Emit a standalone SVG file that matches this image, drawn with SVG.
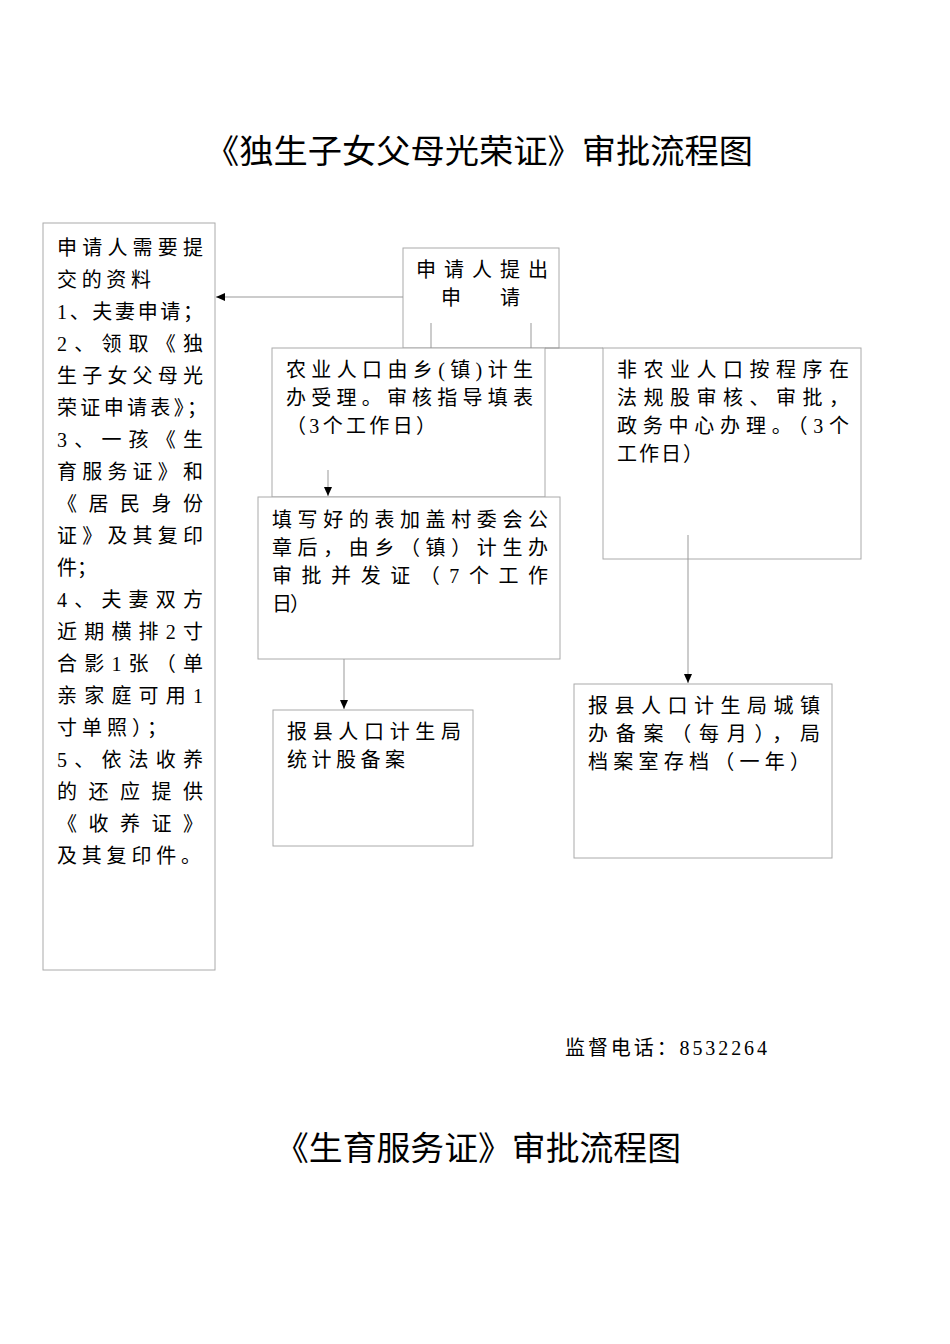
<svg xmlns="http://www.w3.org/2000/svg" width="950" height="1344" viewBox="0 0 950 1344">
<style>
text{font-family:"Liberation Serif","Noto Sans CJK SC",serif;font-size:20px;fill:#000}
.t{font-size:33px}
.b{fill:#fff;stroke:#aaa;stroke-width:1}
.c{stroke:#999;stroke-width:1;fill:none}
</style>
<defs><marker id="a" markerWidth="10" markerHeight="10" refX="9" refY="5" orient="auto" markerUnits="userSpaceOnUse"><path d="M0,1 L9,5 L0,9 z" fill="#000"/></marker></defs>
<rect width="950" height="1344" fill="#fff"/>
<text class="t" x="205" y="163" textLength="548" lengthAdjust="spacingAndGlyphs">《独生子女父母光荣证》审批流程图</text>
<g id="n1"><rect class="b" x="43" y="223" width="172" height="747"/>
<g font-size="20">
<text x="57" y="255" textLength="146">申请人需要提</text>
<text x="57" y="287" textLength="94">交的资料</text>
<text x="57" y="319" textLength="146">1、夫妻申请；</text>
<text x="57" y="351" textLength="146">2、领取《独</text>
<text x="57" y="383" textLength="146">生子女父母光</text>
<text x="57" y="415" textLength="150">荣证申请表》；</text>
<text x="57" y="447" textLength="146">3、一孩《生</text>
<text x="57" y="479" textLength="146">育服务证》和</text>
<text x="57" y="511" textLength="146">《居民身份</text>
<text x="57" y="543" textLength="146">证》及其复印</text>
<text x="57" y="575" textLength="40">件；</text>
<text x="57" y="607" textLength="146">4、夫妻双方</text>
<text x="57" y="639" textLength="146">近期横排2寸</text>
<text x="57" y="671" textLength="146">合影1张（单</text>
<text x="57" y="703" textLength="146">亲家庭可用1</text>
<text x="57" y="735" textLength="110">寸单照）；</text>
<text x="57" y="767" textLength="146">5、依法收养</text>
<text x="57" y="799" textLength="146">的还应提供</text>
<text x="57" y="831" textLength="146">《收养证》</text>
<text x="57" y="863" textLength="144">及其复印件。</text>
</g></g>
<g id="n2"><rect class="b" x="403" y="248" width="156" height="100"/>
<text x="416" y="277" textLength="132">申请人提出</text>
<text x="441" y="305">申</text><text x="500" y="305">请</text></g>
<g id="n3"><rect class="b" x="272" y="348" width="273" height="149"/>
<text x="286" y="377" textLength="247">农业人口由乡(镇)计生</text>
<text x="286" y="405" textLength="247">办受理。审核指导填表</text>
<text x="286" y="433" textLength="150">（3个工作日）</text></g>
<g id="n4"><rect class="b" x="603" y="348" width="258" height="211"/>
<text x="617" y="377" textLength="232">非农业人口按程序在</text>
<text x="617" y="405" textLength="232">法规股审核、审批，</text>
<text x="617" y="433" textLength="232">政务中心办理。（3个</text>
<text x="617" y="461" textLength="86">工作日）</text></g>
<g id="n5"><rect class="b" x="258" y="497" width="302" height="162"/>
<text x="272" y="527" textLength="276">填写好的表加盖村委会公</text>
<text x="272" y="555" textLength="276">章后，由乡（镇）计生办</text>
<text x="272" y="583" textLength="276">审批并发证（7个工作</text>
<text x="272" y="611" textLength="38">日）</text></g>
<g id="n6"><rect class="b" x="273" y="710" width="200" height="136"/>
<text x="287" y="739" textLength="174">报县人口计生局</text>
<text x="287" y="767" textLength="118">统计股备案</text></g>
<g id="n7"><rect class="b" x="574" y="684" width="258" height="174"/>
<text x="588" y="713" textLength="232">报县人口计生局城镇</text>
<text x="588" y="741" textLength="232">办备案（每月），局</text>
<text x="588" y="769" textLength="222">档案室存档（一年）</text></g>
<g id="connectors">
<line class="c" x1="403" y1="297" x2="216" y2="297" marker-end="url(#a)"/>
<line class="c" x1="545" y1="348" x2="603" y2="348"/>
<line class="c" x1="431" y1="323" x2="431" y2="348"/>
<line class="c" x1="531" y1="323" x2="531" y2="348"/>
<line class="c" x1="328" y1="470" x2="328" y2="496" marker-end="url(#a)"/>
<line class="c" x1="344" y1="659" x2="344" y2="709" marker-end="url(#a)"/>
<line class="c" x1="688" y1="535" x2="688" y2="683" marker-end="url(#a)"/>
</g>
<text x="565" y="1055" textLength="202">监督电话：8532264</text>
<text class="t" x="275" y="1160" textLength="406" lengthAdjust="spacingAndGlyphs">《生育服务证》审批流程图</text>
</svg>
